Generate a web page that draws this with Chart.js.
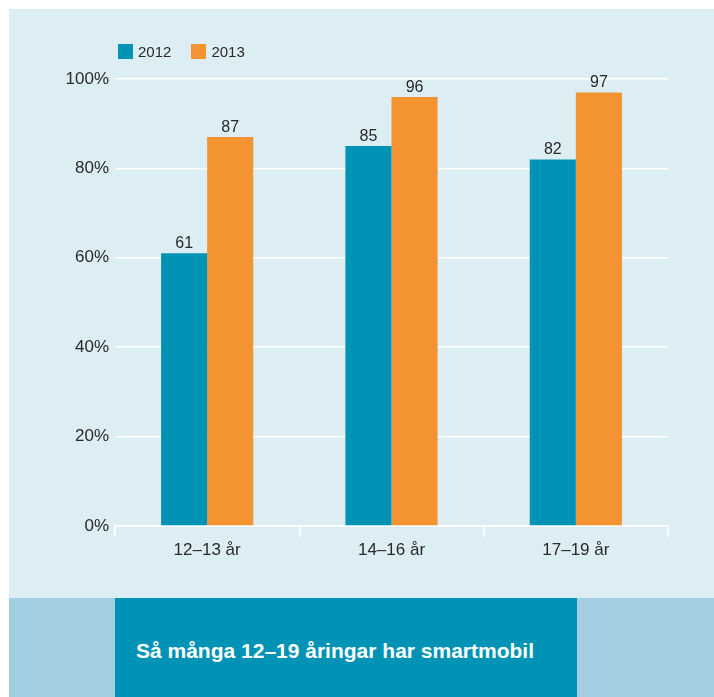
<!DOCTYPE html>
<html>
<head>
<meta charset="utf-8">
<script src="https://cdn.jsdelivr.net/npm/chart.js@4"></script>
<style>
  body { margin: 0; background: #fff; font-family: "Liberation Sans", Arial, sans-serif; }
  #panel { position: absolute; left: 9px; top: 9px; width: 705px; height: 589px; background: #dcedf4; }
  #wrap { position: absolute; left: 0; top: 0; width: 714px; height: 598px; }
  #legend { position: absolute; left: 118px; top: 43px; font-size: 15px; color: #2a2a2a; }
  #legend span.item { display: inline-flex; align-items: center; margin-right: 20px; }
  #legend span.box { display: inline-block; width: 15px; height: 15px; margin-right: 5px; }
  #band { position: absolute; left: 9px; top: 598px; width: 705px; height: 99px; background: #a3cee1; }
  #titlebox { position: absolute; left: 106px; top: 0; width: 462px; height: 99px; background: #0093b6; overflow: hidden;
    color: #fff; font-weight: bold; font-size: 21px; box-sizing: border-box; padding-left: 21px; line-height: 106px; white-space: nowrap; }
</style>
</head>
<body>
<div id="panel"></div>
<div id="wrap"><canvas id="myChart" width="714" height="598"></canvas></div>
<div id="legend"></div>
<div id="band"><div id="titlebox">Så många 12–19 åringar har smartmobil</div></div>
<script>
'use strict';
// kategorier och värden
const labels = ['12–13 år', '14–16 år', '17–19 år'];
const years = ['2012', '2013'];
const values2012 = [61, 85, 82];
const values2013 = [87, 96, 97];
const yTicks = [0, 20, 40, 60, 80, 100];
const colors = ['#0093b6', '#f39331'];

// legend som html
const legend = document.getElementById('legend');
years.forEach(function (y, i) {
  legend.innerHTML += '<span class="item"><span class="box" style="background:' + colors[i] + '"></span>' + y + '</span>';
});

// siffror ovanför staplarna
const valueLabels = {
  id: 'valueLabels',
  afterDatasetsDraw(chart) {
    const ctx = chart.ctx;
    ctx.save();
    ctx.font = '16px "Liberation Sans", Arial, sans-serif';
    ctx.fillStyle = '#2a2a2a';
    ctx.textAlign = 'center';
    ctx.textBaseline = 'alphabetic';
    chart.data.datasets.forEach(function (ds, i) {
      chart.getDatasetMeta(i).data.forEach(function (bar, j) {
        ctx.fillText(ds.data[j], bar.x, bar.y - 5);
      });
    });
    ctx.restore();
  }
};

const data = {
  labels: labels,
  datasets: [{
    label: years[0],
    data: values2012,
    backgroundColor: colors[0]
  }, {
    label: years[1],
    data: values2013,
    backgroundColor: colors[1]
  }]
};

const config = {
  type: 'bar',
  data: data,
  plugins: [valueLabels],
  options: {
    responsive: false,
    animation: false,
    layout: { padding: { left: 0, right: 46, top: 79, bottom: 0 } },
    categoryPercentage: 0.5,
    barPercentage: 1,
    plugins: { legend: { display: false }, tooltip: { enabled: false } },
    scales: {
      x: {
        grid: { color: '#ffffff', lineWidth: 1.5, drawOnChartArea: false, drawTicks: true, tickLength: 11 },
        border: { color: '#ffffff', width: 1.5 },
        ticks: { color: '#2a2a2a', font: { size: 17, family: '"Liberation Sans", Arial, sans-serif' }, padding: 3 },
        afterFit(scale) { scale.height = 72; }
      },
      y: {
        min: 0,
        max: 100,
        afterBuildTicks(scale) { scale.ticks = yTicks.map(function (v) { return { value: v }; }); },
        grid: { color: '#ffffff', lineWidth: 1.5, drawTicks: false },
        border: { display: false },
        ticks: {
          color: '#2a2a2a',
          font: { size: 17, family: '"Liberation Sans", Arial, sans-serif' },
          padding: 6,
          callback: function (v) { return v + '%'; }
        },
        afterFit(scale) { scale.width = 115; }
      }
    }
  }
};

const myChart = new Chart(document.getElementById('myChart'), config);
</script>
</body>
</html>
